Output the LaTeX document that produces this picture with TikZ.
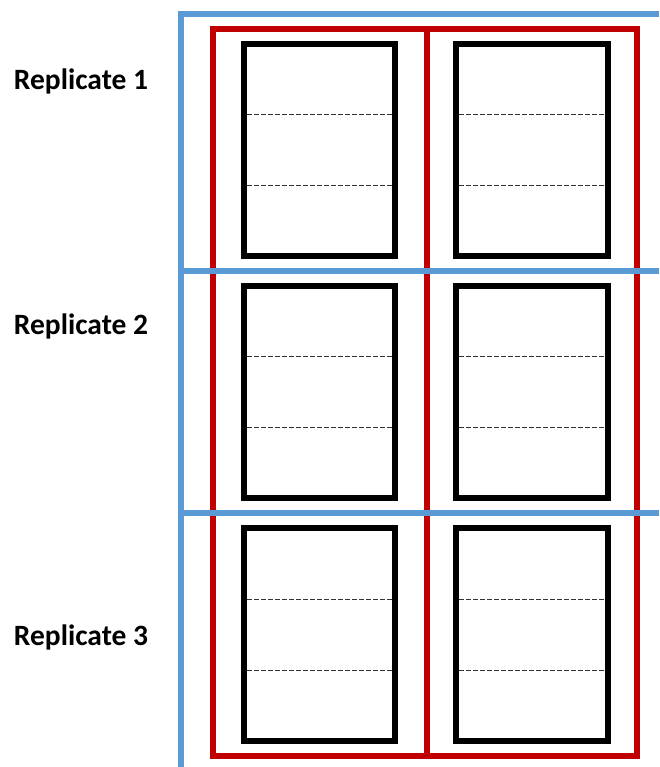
\documentclass[tikz,border=0pt]{standalone}
\usepackage{fontspec}
\setmainfont{Carlito}
\usepackage{xcolor}
\definecolor{repblue}{RGB}{91,155,213}
\definecolor{repred}{RGB}{192,0,0}
\tikzset{
    repgrid/.style={draw=repblue, line width=6pt},
    repframe/.style={draw=repred, line width=6pt},
    repbox/.style={draw=black, line width=6pt},
    repsplit/.style={draw=black!80, line width=0.9pt, dash pattern=on 5pt off 2pt},
    replabel/.style={font=\fontsize{29.5}{31}\selectfont\bfseries, anchor=base, inner sep=0pt}
}
\begin{document}
\begin{tikzpicture}[x=1pt, y=-1pt]
    \useasboundingbox (0,0) rectangle (659,767);

    % red frame with middle divider
    \draw[repframe] (213,29) rectangle (637,756);
    \draw[repframe] (427,29) -- (427,756);

    % sample boxes, three rows of two
    \foreach \row/\top/\bot in {1/44/256, 2/286/498, 3/528/741} {
        \foreach \col/\left/\right in {1/244/395, 2/456/608} {
            \draw[repbox] (\left,\top) rectangle (\right,\bot);
            \draw[repsplit] (\left+3,{\top+(\bot-\top)/3}) -- (\right-3,{\top+(\bot-\top)/3});
            \draw[repsplit] (\left+3,{\top+2*(\bot-\top)/3}) -- (\right-3,{\top+2*(\bot-\top)/3});
        }
    }

    % blue grid
    \coordinate (gridtop) at (181,11);
    \coordinate (gridbottom) at (181,767);
    \draw[repgrid] (gridtop) -- (gridbottom);
    \foreach \y in {14, 271, 513} {
        \draw[repgrid] (178,\y) -- (659,\y);
    }

    % row labels
    \node[replabel] (rep1) at (81,90) {Replicate 1};
    \node[replabel] (rep2) at (81,334) {Replicate 2};
    \node[replabel] (rep3) at (81,645) {Replicate 3};
\end{tikzpicture}
\end{document}
